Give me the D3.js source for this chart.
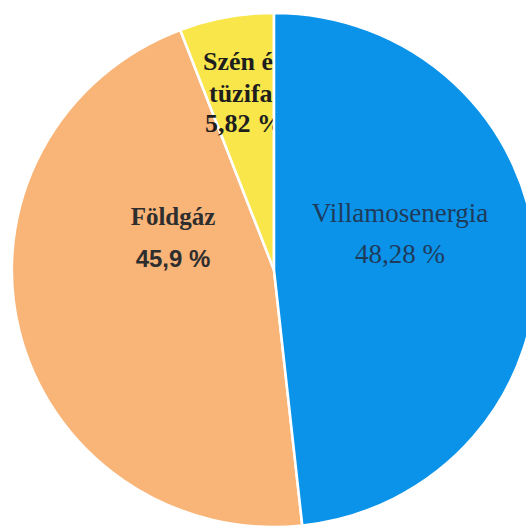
<!DOCTYPE html>
<html>
<head>
<meta charset="utf-8">
<script src="https://cdn.jsdelivr.net/npm/d3@7"></script>
<style>
  html, body { margin: 0; padding: 0; background: #ffffff; }
  svg { display: block; }
</style>
</head>
<body>
<svg id="chart" width="526" height="528"></svg>
<script>
// ---- data ----
const categories = ["Villamosenergia", "Földgáz", "Szén és tüzifa"];
const values = [48.28, 45.9, 5.82];
const valueLabels = ["48,28 %", "45,9 %", "5,82 %"];
const nameLines = [["Villamosenergia"], ["Földgáz"], ["Szén és", "tüzifa"]];

// ---- styles / layout ----
const colors = ["#0a93e9", "#f9b478", "#f8e64b"];
const W = 526, H = 528;
const cx = 274, cy = 270, R = 257, sx = 1.02;

const svg = d3.select("#chart");
svg.append("rect").attr("width", W).attr("height", H).attr("fill", "#fff");

const pie = d3.pie().sort(null).value(d => d.value).startAngle(0);
const arcs = pie(categories.map((c, i) => ({ name: c, value: values[i], i })));
const arc = d3.arc().innerRadius(0).outerRadius(R);

const root = svg.append("g").attr("transform", `translate(${cx},${cy})`);

const serif = "'Liberation Serif', 'Times New Roman', serif";
const sans = "'Liberation Sans', Arial, sans-serif";

// label placement relative to pie centre (manually placed in the original)
const labelPos = [
  { anchor: "middle", nameX: [126], valX: 126, nameY: [-48], valY: -7, font: serif, valFont: serif,
    nameW: "normal", valW: "normal", fill: "#1f3b5a", nameSize: 27, valSize: 27 },
  { anchor: "middle", nameX: [-101], valX: -101, nameY: [-45], valY: -3, font: serif, valFont: sans,
    nameW: "bold", valW: "bold", fill: "#2e2e2e", nameSize: 25, valSize: 24 },
  { anchor: "start", nameX: [-71, -65], valX: -69, nameY: [-200, -168], valY: -138, font: serif, valFont: serif,
    nameW: "bold", valW: "bold", fill: "#1e1e1e", nameSize: 26, valSize: 26 }
];

function drawLabel(i) {
  const p = labelPos[i];
  const g = root.append("g");
  nameLines[i].forEach((line, k) => {
    g.append("text")
      .attr("x", p.nameX[k]).attr("y", p.nameY[k])
      .attr("text-anchor", p.anchor)
      .attr("font-family", p.font)
      .attr("font-weight", p.nameW)
      .attr("font-size", p.nameSize)
      .attr("fill", p.fill)
      .text(line);
  });
  g.append("text")
    .attr("x", p.valX).attr("y", p.valY)
    .attr("text-anchor", p.anchor)
    .attr("font-family", p.valFont)
    .attr("font-weight", p.valW)
    .attr("font-size", p.valSize)
    .attr("fill", p.fill)
    .text(valueLabels[i]);
}

function drawSlice(i) {
  root.append("g").attr("transform", `scale(${sx},1)`)
    .append("path")
    .attr("d", arc(arcs[i]))
    .attr("fill", colors[i])
    .attr("stroke", "#ffffff")
    .attr("stroke-width", 2.5)
    .attr("stroke-linejoin", "round");
}

// order: orange, yellow, yellow's label (partly hidden under blue), blue, others
drawSlice(1);
drawSlice(2);
drawLabel(2);
drawSlice(0);
drawLabel(1);
drawLabel(0);
</script>
</body>
</html>
